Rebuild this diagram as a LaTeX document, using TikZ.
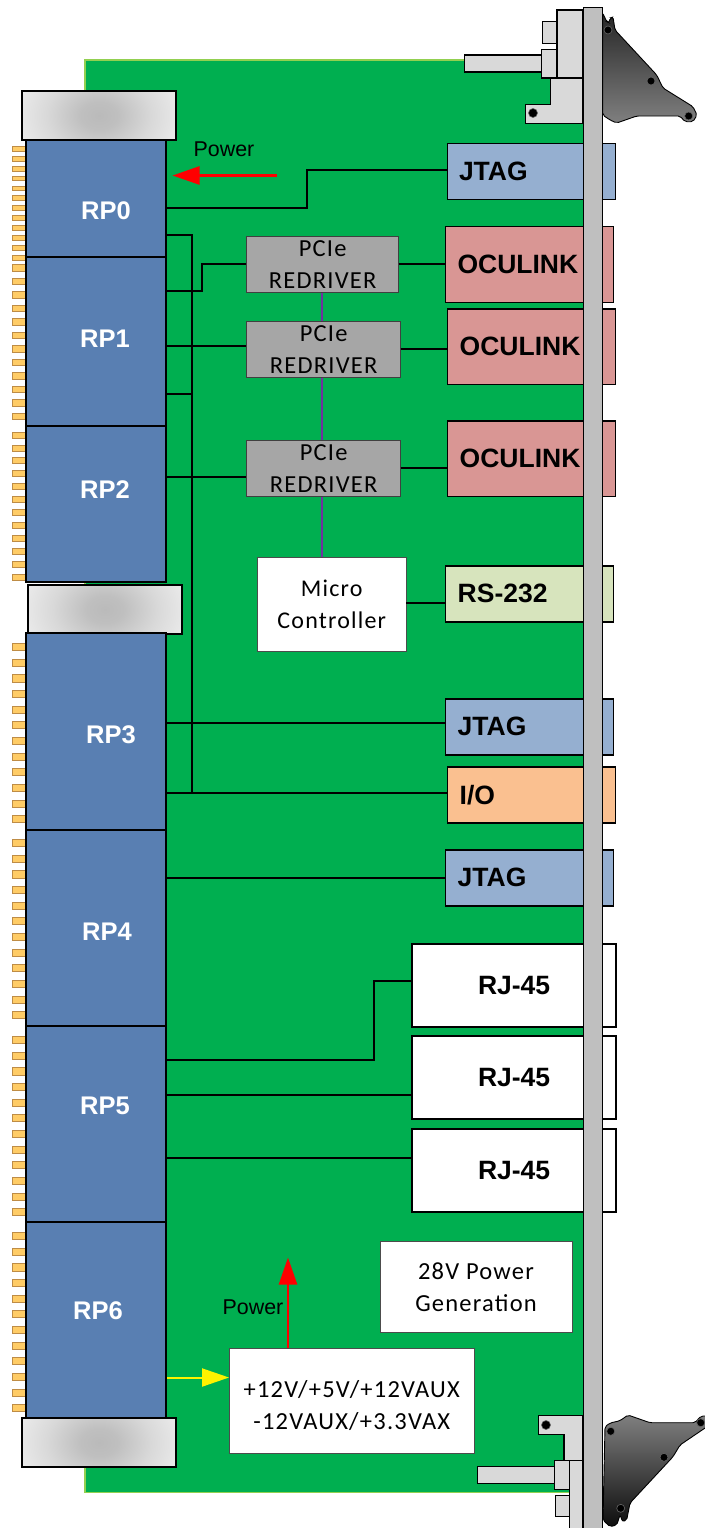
\documentclass[tikz,border=0pt]{standalone}
\usepackage{fontspec}
\setmainfont{Carlito}[LetterSpace=5]
\newfontfamily\armfont{Liberation Sans}
\usetikzlibrary{arrows.meta}
\definecolor{pcb}{RGB}{0,175,80}
\definecolor{pcbedge}{RGB}{146,208,80}
\definecolor{rpblue}{RGB}{89,127,178}
\definecolor{jtagblue}{RGB}{149,175,208}
\definecolor{ocu}{RGB}{217,150,148}
\definecolor{rsgreen}{RGB}{215,228,189}
\definecolor{ioor}{RGB}{250,192,144}
\definecolor{metal}{RGB}{217,217,217}
\definecolor{rail}{RGB}{191,191,191}
\definecolor{pingold}{RGB}{255,204,102}
\definecolor{pinedge}{RGB}{190,140,70}
\definecolor{gbox}{RGB}{166,166,166}
\definecolor{purp}{RGB}{112,48,160}
\pgfdeclareradialshading{barshade}{\pgfpoint{0bp}{0bp}}{color(0bp)=(black!27); color(6bp)=(black!25); color(17bp)=(black!15); color(30bp)=(black!6); color(50bp)=(black!6)}
\newcommand{\cl}[1]{\raisebox{1pt}{#1}}
\tikzset{
 rp/.style={draw=black,line width=1.1pt,fill=rpblue,inner sep=0pt,outer sep=0pt},
 rptext/.style={text=white,inner sep=0pt,font=\armfont\fontsize{25.5}{28}\selectfont\bfseries},
 conn/.style={draw=black,line width=1.2pt,inner sep=0pt,outer sep=0pt,font=\armfont\fontsize{26.5}{30}\selectfont\bfseries,text=black,anchor=north west,align=left},
 wire/.style={draw=black,line width=1.5pt},
 mech/.style={draw=black,line width=1.2pt,fill=metal},
 handle/.style={draw=black,line width=.9pt,rounded corners=2pt,top color=black!85,bottom color=black!50},
 hole/.style={fill=black,draw=black!60,line width=.6pt},
 lbl/.style={inner sep=0pt,align=center,font=\armfont\fontsize{21.4}{26}\selectfont,text=black},
 wbox/.style={draw=black!70,line width=.8pt,fill=white,inner sep=0pt,outer sep=0pt,align=center,anchor=north west,font=\fontsize{24.5}{32}\selectfont},
 gray box/.style={draw=black!75,line width=.9pt,fill=gbox,inner sep=0pt,outer sep=0pt,align=center,anchor=north west,font=\fontsize{24.5}{32}\selectfont},
 bar/.style={draw=black,line width=1.2pt,inner sep=0pt,outer sep=0pt,anchor=north west,minimum width=154pt,minimum height=49pt,
   path picture={\shade[shading=barshade] ([xshift=-77pt,yshift=-58pt]path picture bounding box.center) rectangle ([xshift=77pt,yshift=58pt]path picture bounding box.center);}},
 pin/.style={draw=pinedge,line width=.8pt,fill=pingold},
 flow/.style={line width=2.6pt,-{Triangle[length=27pt,width=18pt]}},
}
\begin{document}
\begin{tikzpicture}[x=1pt,y=-1pt]
\useasboundingbox (0,0) rectangle (704,1528);
% board
\fill[pcb,draw=pcbedge,line width=1.2pt] (85,60) rectangle (601,1492.5);
% pins
\foreach \i in {0,...,11} {\path[pin] (12,148.7+9.91*\i-2.4) rectangle (26,148.7+9.91*\i+2.4);}
\foreach \i in {0,...,11} {\path[pin] (12,268+13.5*\i-3.3) rectangle (26,268+13.5*\i+3.3);}
\foreach \i in {0,...,11} {\path[pin] (12,435+12.9*\i-3) rectangle (26,435+12.9*\i+3);}
\foreach \g in {647,843,1040,1236} {\foreach \i in {0,...,11} {\path[pin] (12,\g+15.65*\i-3.6) rectangle (26,\g+15.65*\i+3.6);}}
% front panel connector tails
\node[conn,fill=jtagblue,minimum width=168.4pt,minimum height=56pt,text width=168pt] (jtag0) at (447.3,143.3) {\hspace{11.5pt}\cl{JTAG}};
\node[conn,fill=ocu,minimum width=167.6pt,minimum height=75.6pt,text width=167pt] (ocu0) at (445.7,226.7) {\hspace{11.5pt}\cl{OCULINK}};
\node[conn,fill=ocu,minimum width=168pt,minimum height=75.6pt,text width=167pt] (ocu1) at (447.7,309) {\hspace{11.5pt}\cl{OCULINK}};
\node[conn,fill=ocu,minimum width=168pt,minimum height=75.6pt,text width=167pt] (ocu2) at (447.7,421) {\hspace{11.5pt}\cl{OCULINK}};
\node[conn,fill=rsgreen,minimum width=168pt,minimum height=56pt,text width=167pt] (rs) at (445.7,566) {\hspace{11.5pt}\cl{RS-232}};
\node[conn,fill=jtagblue,minimum width=168pt,minimum height=56pt,text width=167pt] (jtag3) at (445.7,699) {\hspace{11.5pt}\cl{JTAG}};
\node[conn,fill=ioor,minimum width=168pt,minimum height=56pt,text width=167pt] (io) at (447.7,767) {\hspace{11.5pt}\cl{I/O}};
\node[conn,fill=jtagblue,minimum width=168pt,minimum height=56pt,text width=167pt] (jtag4) at (445.7,850) {\hspace{11.5pt}\cl{JTAG}};
\node[conn,fill=white,minimum width=204pt,minimum height=83pt,text width=203pt] (rj0) at (412,944) {\hspace{65.5pt}\cl{RJ-45}};
\node[conn,fill=white,minimum width=204pt,minimum height=83pt,text width=203pt] (rj1) at (412,1036) {\hspace{65.5pt}\cl{RJ-45}};
\node[conn,fill=white,minimum width=204pt,minimum height=83pt,text width=203pt] (rj2) at (412,1129) {\hspace{65.5pt}\cl{RJ-45}};
% wires
\draw[wire] (166,208) -- (307,208) -- (307,170) -- (jtag0.west |- 0,170);
\draw[wire] (166,235) -- (192,235) -- (192,793) -- (io.west |- 0,793);
\draw[wire] (166,394) -- (192,394);
\draw[wire] (166,291) -- (202,291) -- (202,264) -- (247,264);
\draw[wire] (166,346) -- (247,346);
\draw[wire] (166,477) -- (247,477);
\draw[wire] (166,793) -- (192,793);
\draw[wire] (166,723) -- (jtag3.west |- 0,723);
\draw[wire] (166,878) -- (jtag4.west |- 0,878);
\draw[wire] (166,1060) -- (374,1060) -- (374,981) -- (rj0.west |- 0,981);
\draw[wire] (166,1095) -- (rj1.west |- 0,1095);
\draw[wire] (166,1158) -- (rj2.west |- 0,1158);
% redrivers
\node[gray box,minimum width=152pt,minimum height=56.5pt] (rd0) at (246.7,236) {PCIe\\REDRIVER};
\node[gray box,minimum width=154pt,minimum height=56.5pt] (rd1) at (246.7,321) {PCIe\\REDRIVER};
\node[gray box,minimum width=154pt,minimum height=56.5pt] (rd2) at (246.7,440) {PCIe\\REDRIVER};
\node[wbox,minimum width=149pt,minimum height=94pt,font=\fontsize{24}{32}\selectfont] (mc) at (257.3,557) {Micro\\Controller};
% purple link
\draw[purp,line width=1.8pt] (322,292.5) -- (322,321);
\draw[purp,line width=1.8pt] (322,377.5) -- (322,440);
\draw[purp,line width=1.8pt] (322,496.5) -- (322,557);
\draw[wire] (rd0.east |- 0,264) -- (ocu0.west |- 0,264);
\draw[wire] (rd1.east |- 0,349) -- (ocu1.west |- 0,349);
\draw[wire] (rd2.east |- 0,468) -- (ocu2.west |- 0,468);
\draw[wire] (mc.east |- 0,603) -- (rs.west |- 0,603);
% RP blocks
\node[rp,anchor=north west,minimum width=140pt,minimum height=117pt] (rp0) at (26,140) {};
\node[rptext] (t0) at (106,210.8) {RP0};
\node[rp,anchor=north west,minimum width=140pt,minimum height=169pt] (rp1) at (26,257) {};
\node[rptext] (t1) at (105,338.8) {RP1};
\node[rp,anchor=north west,minimum width=140pt,minimum height=156pt] (rp2) at (26,426) {};
\node[rptext] (t2) at (105,489.8) {RP2};
\node[bar,anchor=north west] (b1) at (28,585) {};
\node[rp,anchor=north west,minimum width=140pt,minimum height=197pt] (rp3) at (26,633) {};
\node[rptext] (t3) at (111,734.8) {RP3};
\node[rp,anchor=north west,minimum width=140pt,minimum height=196pt] (rp4) at (26,830) {};
\node[rptext] (t4) at (107,931.8) {RP4};
\node[rp,anchor=north west,minimum width=140pt,minimum height=196pt] (rp5) at (26,1026) {};
\node[rptext] (t5) at (105,1105.8) {RP5};
\node[rp,anchor=north west,minimum width=140pt,minimum height=196pt] (rp6) at (26,1222) {};
\node[rptext] (t6) at (98,1310.8) {RP6};
\node[bar] (b0) at (22,91) {};
\node[bar] (b2) at (22,1418) {};
% boxes
\node[wbox,minimum width=192pt,minimum height=91.5pt] (pg) at (380,1241) {28V Power\\Generation};
\node[wbox,minimum width=245.5pt,minimum height=105pt] (vr) at (229,1348) {\rule{0pt}{27pt}+12V/+5V/+12VAUX\\-12VAUX/+3.3VAX};
% arrows
\coordinate (pw0) at (277,175.5);
\coordinate (pw0e) at (172.5,175.5);
\draw[flow,red] (pw0) -- (pw0e);
\node[lbl] (lp0) at (224,149) {Power};
\coordinate (pw1) at (288,1257.5);
\draw[flow,red] (pw1 |- vr.north) -- (pw1);
\node[lbl] (lp1) at (253,1307) {Power};
\coordinate (pw2) at (229,1377.5);
\draw[flow,yellow,line width=2pt] (167,1377.5) -- (pw2);
% top mechanics
\draw[mech] (557,10) rectangle (583,78);
\draw[mech] (542.3,21.7) rectangle (557,43.3);
\draw[mech] (583,78) -- (550.7,78) -- (550.7,104.3) -- (525.7,104.3) -- (525.7,123.3) -- (583,123.3) -- cycle;
\draw[hole] (533,113) circle (4.5);
\draw[mech] (464.5,55) rectangle (541.7,72);
\draw[mech] (541.7,49.3) rectangle (557,78);
% bottom mechanics
\draw[mech] (569.3,1460.7) rectangle (583,1530);
\draw[mech] (538.3,1415.3) -- (583,1415.3) -- (583,1460.7) -- (564,1460.7) -- (564,1434.3) -- (538.3,1434.3) -- cycle;
\draw[hole] (546,1425) circle (4.5);
\draw[mech] (477.3,1466.7) rectangle (554.3,1483.3);
\draw[mech] (554.3,1460.7) rectangle (569.3,1489.3);
\draw[mech] (555.3,1495.3) rectangle (569.3,1516.7);
% handles
\draw[handle] (602.7,13) -- (606.7,21.7) -- (609,22.7) -- (610,18) -- (613,17) -- (615,30) -- (656.7,75) -- (663,88) -- (693,106.7) -- (697,115) -- (693,121.7) -- (685,121.7) -- (680,116) -- (636.7,116) -- (616.7,123) -- (610,120) -- (602.7,115) -- cycle;
\draw[hole] (608,30) circle (4);
\draw[hole] (651,81) circle (4);
\draw[hole] (688.7,116) circle (4);
\draw[handle,top color=black!50,bottom color=black!95] (605,1426.7) -- (610,1423) -- (620,1420.7) -- (628,1415) -- (650,1422.7) -- (695,1422.7) -- (701,1416) -- (708,1416) -- (708,1426) -- (680,1445) -- (673,1456.7) -- (630,1503) -- (626.7,1520) -- (622.7,1521.7) -- (620,1515) -- (616.7,1525) -- (610,1526.7) -- (603,1520) -- cycle;
\draw[hole] (610.7,1431.3) circle (4);
\draw[hole] (664,1457.3) circle (4);
\draw[hole] (620.7,1508.3) circle (4);
\draw[hole] (700.7,1422.7) circle (4);
% rail
\draw[draw=black,line width=1.5pt,fill=rail] (583.5,7.5) rectangle (602.5,1535);
\end{tikzpicture}
\end{document}
